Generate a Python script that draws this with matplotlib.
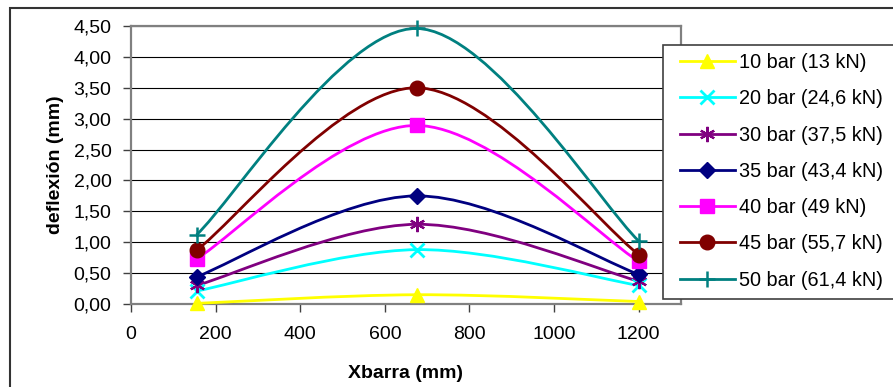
import matplotlib
matplotlib.use("Agg")
import matplotlib.pyplot as plt
from matplotlib.path import Path
from matplotlib.patches import PathPatch, Rectangle
from matplotlib.lines import Line2D
from matplotlib.ticker import FixedLocator, FuncFormatter

plt.rcParams['font.family'] = ['Liberation Sans', 'DejaVu Sans']

x_pos = [155, 675, 1200]
labels = ["10 bar (13 kN)", "20 bar (24,6 kN)", "30 bar (37,5 kN)", "35 bar (43,4 kN)",
          "40 bar (49 kN)", "45 bar (55,7 kN)", "50 bar (61,4 kN)"]
s10 = [0.01, 0.15, 0.04]
s20 = [0.21, 0.88, 0.30]
s30 = [0.30, 1.29, 0.37]
s35 = [0.44, 1.75, 0.48]
s40 = [0.73, 2.89, 0.69]
s45 = [0.87, 3.50, 0.80]
s50 = [1.12, 4.46, 1.02]
series = [s10, s20, s30, s35, s40, s45, s50]
colors = ['#FFFF00', '#00FFFF', '#800080', '#000080', '#FF00FF', '#800000', '#008080']
markers = ['^', 'x', (6, 2, 0), 'D', 's', 'o', '+']
msizes = [10.5, 10, 11, 8.5, 9.5, 10.5, 12]
mews = [1, 2, 1.6, 1, 1, 1, 1.8]

x_ticks = [0, 200, 400, 600, 800, 1000, 1200]
y_ticks = [0, 0.5, 1.0, 1.5, 2.0, 2.5, 3.0, 3.5, 4.0, 4.5]

W, H = 893, 387
FS = 14
fig = plt.figure(figsize=(W / 100, H / 100), dpi=100)
ax = fig.add_axes([131 / W, (H - 304) / H, 550 / W, 278 / H])
ax.set_xlim(0, 1300)
ax.set_ylim(0, 4.5)


def smooth_path(xs, ys):
    n = len(xs)
    verts = [(xs[0], ys[0])]
    codes = [Path.MOVETO]
    for i in range(n - 1):
        p0 = (xs[max(i - 1, 0)], ys[max(i - 1, 0)])
        p1 = (xs[i], ys[i])
        p2 = (xs[i + 1], ys[i + 1])
        p3 = (xs[min(i + 2, n - 1)], ys[min(i + 2, n - 1)])
        c1 = (p1[0] + (p2[0] - p0[0]) / 6, p1[1] + (p2[1] - p0[1]) / 6)
        c2 = (p2[0] - (p3[0] - p1[0]) / 6, p2[1] - (p3[1] - p1[1]) / 6)
        verts += [c1, c2, p2]
        codes += [Path.CURVE4] * 3
    return Path(verts, codes)


handles = []
for vals, c, m, ms, mew, lab in zip(series, colors, markers, msizes, mews, labels):
    ax.add_patch(PathPatch(smooth_path(x_pos, vals), facecolor='none', edgecolor=c,
                           lw=2.0, zorder=3, clip_on=False))
    ax.plot(x_pos, vals, linestyle='none', marker=m, markersize=ms, color=c,
            markeredgecolor=c, markeredgewidth=mew, zorder=4, clip_on=False)
    handles.append(Line2D([0], [0], color=c, lw=2.0, marker=m, markersize=ms,
                          markeredgecolor=c, markeredgewidth=mew, label=lab))

ax.xaxis.set_major_locator(FixedLocator(x_ticks))
ax.yaxis.set_major_locator(FixedLocator(y_ticks))
ax.yaxis.set_major_formatter(FuncFormatter(lambda v, p: f"{v:.2f}".replace('.', ',')))
ax.xaxis.set_major_formatter(FuncFormatter(lambda v, p: f"{int(v)}"))
ax.grid(axis='y', color='#000000', lw=0.8, zorder=1)
ax.set_axisbelow(True)
for side in ['top', 'right', 'bottom', 'left']:
    ax.spines[side].set_color('#808080')
    ax.spines[side].set_linewidth(1.6)
ax.tick_params(axis='both', direction='out', length=6, width=1, color='#404040',
               labelsize=FS, labelcolor='black')
ax.tick_params(axis='y', pad=8)
ax.tick_params(axis='x', pad=10)

ax.set_xlabel("Xbarra (mm)", fontsize=FS, fontweight='bold')
ax.set_ylabel("deflexión (mm)", fontsize=FS, fontweight='bold')
ax.xaxis.set_label_coords(0.5, (304 - 365) / 278)
ax.yaxis.set_label_coords((64 - 131) / 550, 0.5)

# legend box
fig.patches.append(Rectangle((663 / W, 1 - 299 / H), 0.5, (299 - 45.5) / H,
                             transform=fig.transFigure, facecolor='white',
                             edgecolor='#404040', lw=1.2, zorder=5))
leg = fig.legend(handles=handles, loc='upper left',
                 bbox_to_anchor=(680 / W, 1 - 53 / H), bbox_transform=fig.transFigure,
                 fontsize=14.3, frameon=False, handlelength=2.75,
                 handletextpad=0.2, labelspacing=0.87, borderpad=0, borderaxespad=0)
leg.set_zorder(6)

fig.patches.append(Rectangle((10 / W, -0.1), 2, (H - 8) / H + 0.1, transform=fig.transFigure,
                             fill=False, edgecolor='#333333', lw=1.5, clip_on=False))

fig.savefig("out.png", dpi=100)
